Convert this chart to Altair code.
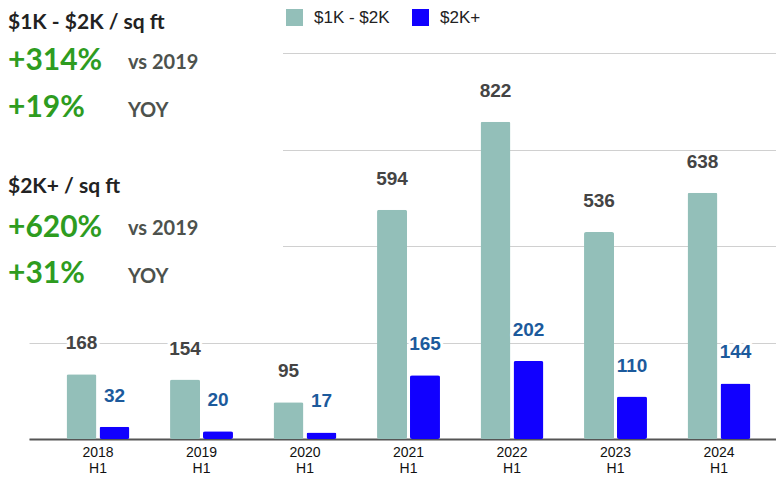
import altair as alt
import pandas as pd

years = ["2018", "2019", "2020", "2021", "2022", "2023", "2024"]
mid_tier = [168, 154, 95, 594, 822, 536, 638]
high_tier = [32, 20, 17, 165, 202, 110, 144]
series_names = ["$1K - $2K", "$2K+"]
series_colors = ["#93bfb9", "#1100ff"]
label_colors = ["#444444", "#1c5a9c"]

block_titles = ["$1K - $2K / sq ft", "$2K+ / sq ft"]
block_vs2019 = ["+314%", "+620%"]
block_yoy = ["+19%", "+31%"]
vs_label = "vs 2019"
yoy_label = "YOY"

rows = []
for y, a, b in zip(years, mid_tier, high_tier):
    rows.append({"year": y, "series": series_names[0], "value": a})
    rows.append({"year": y, "series": series_names[1], "value": b})
df = pd.DataFrame(rows)

x_enc = alt.X("year:N", sort=years,
              scale=alt.Scale(paddingInner=0, paddingOuter=0.1087, align=0.767),
              axis=alt.Axis(title=None, labelAngle=0, ticks=False, grid=False,
                            labelExpr="[datum.label, 'H1']",
                            labelFont="Liberation Sans", labelFontSize=14,
                            labelLineHeight=16, labelColor="#111111",
                            labelPadding=6, domainColor="#555555", domainWidth=2))
xoff_enc = alt.XOffset("series:N", sort=series_names,
                       scale=alt.Scale(paddingInner=0.0909, paddingOuter=0.615))
y_enc = alt.Y("value:Q", scale=alt.Scale(domain=[0, 1000], nice=False),
              axis=alt.Axis(title=None, labels=False, ticks=False, domain=False,
                            values=[0, 250, 500, 750, 1000],
                            gridColor="#d0d0d0", gridWidth=1))

bars = alt.Chart(df).mark_bar(cornerRadius=2).encode(
    x=x_enc, xOffset=xoff_enc, y=y_enc,
    color=alt.Color("series:N", sort=series_names,
                    scale=alt.Scale(domain=series_names, range=series_colors),
                    legend=alt.Legend(title=None, orient="none", legendX=257, legendY=-44,
                                      direction="horizontal", symbolType="square",
                                      symbolSize=289, symbolStrokeWidth=0,
                                      labelFont="Liberation Sans", labelFontSize=17,
                                      labelColor="#222222", labelOffset=11,
                                      columnPadding=22)),
)

halo = alt.Chart(df).mark_text(
    font="Liberation Sans", fontWeight="bold", fontSize=19, baseline="middle",
    dy=-31, fill="white", stroke="white", strokeWidth=6, strokeJoin="round"
).encode(x=x_enc, xOffset=xoff_enc, y=y_enc, text="value:Q")

labels = []
for name, col in zip(series_names, label_colors):
    labels.append(
        alt.Chart(df).transform_filter(alt.datum.series == name).mark_text(
            font="Liberation Sans", fontWeight="bold", fontSize=19,
            baseline="middle", dy=-31, color=col
        ).encode(x=x_enc, xOffset=xoff_enc, y=y_enc, text="value:Q")
    )

cover = alt.Chart(pd.DataFrame({"k": [0]})).mark_rect(color="white").encode(
    x=alt.value(-21), x2=alt.value(254), y=alt.value(-45), y2=alt.value(247))


def txt(s, x, y, size, color):
    return alt.Chart(pd.DataFrame({"t": [s]})).mark_text(
        font="Lato", fontWeight="bold", fontSize=size, align="left",
        baseline="alphabetic", color=color
    ).encode(text="t:N", x=alt.value(x), y=alt.value(y))


green = "#2e9c1f"
gray = "#4d524d"
dark = "#222222"
texts = [
    txt(block_titles[0], -21, -24, 21, dark),
    txt(block_vs2019[0], -21, 17, 30, green),
    txt(vs_label, 99, 16, 20, gray),
    txt(block_yoy[0], -21, 64, 30, green),
    txt(yoy_label, 99, 64, 20, gray),
    txt(block_titles[1], -21, 140, 21, dark),
    txt(block_vs2019[1], -21, 184, 30, green),
    txt(vs_label, 99, 182, 20, gray),
    txt(block_yoy[1], -21, 230, 30, green),
    txt(yoy_label, 99, 230, 20, gray),
]

chart = alt.layer(bars, cover, halo, *labels, *texts).properties(
    width=747, height=386,
    background="white",
    autosize=alt.AutoSizeParams(type="none"),
    padding={"left": 21, "top": 45, "right": 0, "bottom": 40},
).configure_view(stroke=None)

chart.save("out.html", embed_options={"renderer": "svg", "actions": False})
